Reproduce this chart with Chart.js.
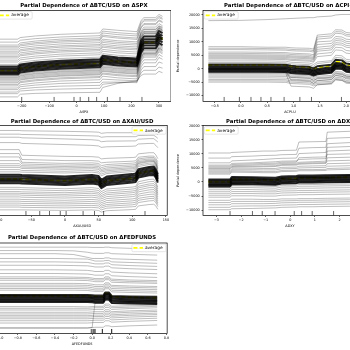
<!DOCTYPE html>
<html><head><meta charset="utf-8">
<script src="https://cdn.jsdelivr.net/npm/chart.js@4.4.1/dist/chart.umd.min.js"></script>
<style>
html,body{margin:0;padding:0;width:350px;height:350px;overflow:hidden;background:#fff;position:relative}
canvas{position:absolute;display:block}
</style></head><body>
<canvas id="c0" width="202" height="116" style="left:-31px;top:0px"></canvas>
<canvas id="c1" width="202" height="116" style="left:175px;top:0px"></canvas>
<canvas id="c2" width="202" height="114" style="left:-31px;top:116px"></canvas>
<canvas id="c3" width="202" height="114" style="left:175px;top:116px"></canvas>
<canvas id="c4" width="202" height="116" style="left:-31px;top:232px"></canvas>
<script>
// ---------------- DATA ----------------
const yTicks = [-10000, -5000, 0, 5000, 10000, 15000, 20000];

// ΔSPX
const spxX = [-300, -215, -205, -150, -60, 85, 95, 150, 220, 235, 245, 288, 300, 313];
const spxTicks = [-200, -100, 0, 100, 200, 300];
const spxAvg = [-700, -700, 100, 800, 1500, 2000, 3300, 2700, 2300, 8300, 9800, 9800, 11800, 11000];
const spxIce = [
 [11000, 11000, 11600, 12200, 12800, 13300, 14800, 14300, 13800, 18000, 19000, 19000, 20200, 19500],
 [9900, 9900, 10600, 11200, 11800, 12300, 14000, 13400, 12900, 17200, 18300, 18300, 19500, 18800],
 [8800, 8800, 9600, 10300, 11000, 11500, 13300, 12700, 12200, 16500, 17800, 17800, 19000, 18400],
 [8200, 8200, 9000, 9700, 10400, 10900, 12500, 11900, 11400, 15500, 16800, 16800, 18200, 17500],
 [7700, 7700, 8500, 9200, 9900, 10400, 12000, 11400, 10900, 15200, 16400, 16400, 17800, 17200],
 [7000, 7000, 7800, 8500, 9200, 9700, 11000, 10400, 10000, 14000, 15500, 15500, 16800, 16000],
 [6300, 6300, 7100, 7800, 8500, 9000, 10400, 9800, 9400, 13200, 14600, 14600, 15800, 15200],
 [5800, 5800, 6600, 7300, 8000, 8500, 9800, 9200, 8800, 13500, 14800, 14800, 16000, 15500],
 [5100, 5100, 5900, 6600, 7300, 7800, 9100, 8500, 8100, 12800, 14000, 14000, 15500, 14800],
 [4500, 4500, 5300, 6000, 6700, 7200, 8500, 7900, 7500, 12300, 13800, 13800, 15200, 14400],
 [4000, 4000, 4800, 5500, 6200, 6700, 8000, 7400, 7000, 12000, 13500, 13500, 14800, 14000],
 [3200, 3200, 4000, 4700, 5400, 5900, 7200, 6600, 6200, 11500, 13000, 13000, 14500, 13800],
 [2500, 2500, 3300, 4000, 4700, 5200, 6500, 5900, 5500, 11000, 12500, 12500, 14300, 13500],
 [1600, 1600, 2400, 3100, 3800, 4300, 5600, 5000, 4600, 11600, 13100, 13100, 15100, 14300],
 [-2800, -2800, -2000, -1300, -600, -100, 1200, 600, 200, 5200, 6700, 6700, 8700, 7900],
 [-3200, -3200, -2400, -1700, -1000, -500, 800, 200, -200, 6000, 7500, 7500, 9500, 8700],
 [-3500, -3500, -2700, -2000, -1300, -800, 500, -100, -500, 5500, 7000, 7000, 9000, 8200],
 [-3900, -3900, -3100, -2400, -1700, -1200, 100, -500, -900, 4400, 5800, 5800, 7800, 7000],
 [-4300, -4300, -3500, -2800, -2100, -1600, -300, -900, -1300, 4700, 6200, 6200, 8200, 7500],
 [-4900, -4900, -3900, -3200, -2500, -2000, -700, -1300, -1700, 4200, 5700, 5700, 7700, 6900],
 [-5300, -5300, -4200, -3500, -2800, -2300, -1000, -1600, -2000, 3800, 5300, 5300, 7300, 6500],
 [-5900, -5900, -4800, -4100, -3400, -2900, -1600, -2200, -2600, 3300, 4800, 4800, 6800, 6000],
 [-6400, -6400, -5200, -4500, -3800, -3300, -2000, -2600, -3000, 2800, 4300, 4300, 6300, 5500],
 [-7200, -7200, -6000, -5300, -4600, -4100, -2800, -3400, -3800, 1800, 3300, 3300, 5300, 4500],
 [-7800, -7800, -6700, -6100, -5500, -5100, -3900, -4200, -4500, 700, 2200, 2200, 4200, 3500],
 [-8700, -8700, -7500, -7000, -6500, -6200, -5000, -5000, -5200, -500, 800, 800, 2500, 2000],
 [-9300, -9300, -8300, -7900, -7600, -7300, -5800, -5200, -4800, -1500, -600, -600, 600, 200],
 [-10500, -10500, -9500, -9200, -9000, -8800, -7000, -5500, -4500, -2500, -2000, -2000, -1000, -1500]
];
const spxBand = [
 [800, 800, 1600, 2300, 3000, 3500, 4800, 4200, 3800, 10500, 12000, 12000, 14000, 13200],
 [200, 200, 1000, 1700, 2400, 2900, 4200, 3600, 3200, 9500, 11000, 11000, 13000, 12200],
 [-400, -400, 400, 1100, 1800, 2300, 3600, 3000, 2600, 8600, 10100, 10100, 12100, 11300],
 [-1000, -1000, -200, 500, 1200, 1700, 3000, 2400, 2000, 8000, 9500, 9500, 11500, 10700],
 [-1600, -1600, -800, -100, 600, 1100, 2400, 1800, 1400, 7100, 8600, 8600, 10600, 9800],
 [-2200, -2200, -1400, -700, 0, 500, 1800, 1200, 800, 6100, 7600, 7600, 9600, 8800]
];
const spxDeciles = [-200, -82, -9.5, 13, 44, 73, 112, 158, 238];

// ΔCPI-U
const cpiX = [-0.62, 0.0, 0.5, 0.85, 0.95, 1.05, 1.3, 1.38, 1.45, 1.72, 1.8, 1.92, 2.0, 2.2, 2.47];
const cpiTicks = [-0.5, 0.0, 0.5, 1.0, 1.5, 2.0, 2.5];
const cpiAvg = [1400, 1400, 1400, 1300, 900, 750, 500, -100, 400, 1000, 2600, 2400, 1400, 900, 900];
const cpiIce = [
 [17900, 18000, 18300, 18600, 18700, 18800, 19000, 19000, 19300, 19600, 20000, 20200, 20200, 20200, 20200],
 [8200, 8200, 8000, 8000, 7800, 7700, 7600, 7300, 12500, 13000, 14500, 14400, 13500, 13000, 13000],
 [7600, 7600, 7500, 7400, 7200, 7100, 7000, 6700, 11800, 12200, 13800, 13700, 12800, 12400, 12400],
 [7100, 7100, 7000, 6900, 6700, 6600, 6500, 6200, 11000, 11500, 13200, 13000, 12200, 11800, 11800],
 [6200, 6200, 6100, 6000, 5800, 5700, 5500, 5200, 10000, 10300, 12000, 11800, 11000, 10600, 10600],
 [5700, 5700, 5600, 5500, 5300, 5200, 5000, 4600, 9000, 9400, 11200, 11000, 10200, 9800, 9800],
 [5200, 5200, 5100, 5000, 4800, 4700, 4500, 4100, 8000, 8500, 10500, 10300, 9500, 9000, 9000],
 [4800, 4800, 4700, 4600, 4400, 4300, 4100, 3700, 7200, 7700, 9700, 9500, 8700, 8200, 8200],
 [4400, 4400, 4300, 4200, 4000, 3900, 3700, 3300, 6500, 7000, 9000, 8800, 8000, 7500, 7500],
 [4000, 4000, 3900, 3800, 3500, 3400, 3200, 2800, 5500, 6000, 8000, 7800, 6800, 6300, 6300],
 [3600, 3600, 3500, 3400, 3100, 3000, 2800, 2400, 4500, 5000, 7000, 6800, 5800, 5300, 5300],
 [2900, 2900, 2900, 2800, 2400, 2300, 2100, 1600, 2500, 3000, 5000, 4800, 3500, 3000, 3000],
 [2300, 2300, 2300, 2200, 1800, 1700, 1500, 900, 1900, 2500, 4200, 4000, 2800, 2400, 2400],
 [-800, -800, -800, -900, -4200, -4300, -4500, -5500, -4500, -4000, -2500, -2800, -3500, -3800, -3800],
 [-1200, -1200, -1200, -1300, -3200, -3300, -3500, -4500, -3600, -3200, -1700, -2000, -2800, -3100, -3100],
 [-1500, -1500, -1500, -1600, -6500, -6600, -6800, -7300, -6000, -5500, -4000, -4300, -5000, -5300, -5300],
 [-1800, -1800, -1800, -1900, -2300, -2400, -2600, -3200, -2800, -2500, -1000, -1200, -2200, -2600, -2600],
 [-2300, -2300, -2300, -2400, -2800, -2900, -3100, -3700, -3300, -3000, -1500, -1700, -2700, -3100, -3100],
 [-2800, -2800, -2800, -2900, -3300, -3400, -3600, -4200, -3800, -3500, -2000, -2200, -3200, -3600, -3600],
 [-3400, -3400, -3400, -3500, -3900, -4000, -4200, -4800, -4400, -4100, -2600, -2800, -3800, -4200, -4200],
 [-4000, -4000, -4000, -4100, -4500, -4600, -4800, -5400, -5000, -4700, -3200, -3400, -4400, -4800, -4800],
 [-4500, -4500, -4500, -4600, -5000, -5100, -5300, -5900, -5500, -5200, -3700, -3900, -4900, -5300, -5300],
 [-5000, -5000, -5000, -5100, -5500, -5600, -5800, -6400, -6000, -5700, -4200, -4400, -5400, -5800, -5800]
];
const cpiBand = [
 [1600, 1600, 1600, 1500, 1100, 950, 700, 100, 900, 1500, 3300, 3100, 1900, 1400, 1400],
 [900, 900, 900, 800, 400, 250, 0, -600, -100, 500, 2100, 1900, 900, 400, 400],
 [400, 400, 400, 300, -100, -250, -500, -1100, -600, 0, 1600, 1400, 400, -100, -100],
 [-100, -100, -100, -200, -600, -750, -1000, -1600, -1100, -500, 1100, 900, -100, -600, -600],
 [-600, -600, -600, -700, -1100, -1250, -1500, -2100, -1600, -1000, 600, 400, -600, -1100, -1100],
 [-1100, -1100, -1100, -1200, -1600, -1750, -2000, -2600, -2100, -1500, 100, -100, -1100, -1600, -1600]
];
const cpiDeciles = [-0.32, -0.03, 0.19, 0.38, 0.57, 0.82, 1.12, 1.34, 1.91];

// ΔXAU/USD
const xauX = [-105, -68, -64, 0, 40, 50, 54, 62, 100, 105, 109, 125, 132, 135, 138];
const xauTicks = [-100, -50, 0, 50, 100, 150];
const xauAvg = [1050, 1050, 950, 460, 950, 600, -700, 460, 1300, 1500, 3050, 3870, 4000, 3000, 1280];
const xauIce = [
 [18300, 18300, 18200, 18000, 17800, 17700, 17300, 17500, 17500, 17500, 17800, 17800, 17800, 17400, 16800],
 [17000, 17000, 16900, 16600, 16400, 16300, 15900, 16100, 16100, 16100, 16500, 16600, 16600, 16100, 15500],
 [15900, 15900, 15700, 15300, 15000, 14800, 14300, 14500, 14600, 14600, 15200, 15400, 15400, 14800, 14200],
 [14000, 14000, 13700, 13300, 13000, 12800, 12300, 12500, 12700, 12800, 13500, 13700, 13700, 13000, 12200],
 [11500, 11500, 9500, 9100, 9000, 8800, 8200, 8400, 8700, 8800, 10000, 10400, 10400, 9600, 8300],
 [10100, 10100, 8000, 7600, 7600, 7400, 6800, 7000, 7400, 7500, 8800, 9200, 9200, 8400, 7200],
 [8900, 8900, 7000, 6600, 6800, 6600, 5800, 6200, 6700, 6800, 8200, 8700, 8700, 7800, 6500],
 [7600, 7600, 6400, 6000, 6200, 6000, 5100, 5600, 6100, 6200, 7700, 8200, 8200, 7300, 5800],
 [6500, 6500, 5800, 5500, 5700, 5500, 4500, 5000, 5600, 5700, 7200, 7800, 7800, 6800, 5200],
 [5800, 5800, 5300, 5000, 5200, 5000, 4000, 4500, 5100, 5300, 6800, 7500, 7500, 6500, 4800],
 [5200, 5200, 4800, 4500, 4700, 4500, 3500, 4000, 4700, 4900, 6500, 7200, 7300, 6200, 4500],
 [4400, 4400, 4100, 3800, 4100, 3800, 2800, 3500, 4200, 4400, 6000, 6700, 6800, 5800, 4000],
 [3600, 3600, 3500, 3200, 3500, 3200, 2200, 3000, 3700, 3900, 5500, 6200, 6300, 5300, 3600],
 [-1900, -1900, -2000, -2400, -2000, -2300, -3400, -2500, -1800, -1600, 100, 900, 1000, 0, -1800],
 [-2600, -2600, -2700, -3100, -2700, -3000, -4100, -3200, -2500, -2300, -700, 100, 200, -700, -2500],
 [-3400, -3400, -3500, -3800, -3400, -3700, -4800, -3900, -3200, -3000, -1500, -700, -600, -1500, -3300],
 [-4000, -4000, -4100, -4400, -4000, -4300, -5400, -4500, -3800, -3600, -2100, -1300, -1300, -2200, -4000],
 [-4600, -4600, -4700, -5000, -4700, -5000, -6000, -5200, -4500, -4300, -2800, -2000, -2000, -2900, -4600],
 [-5300, -5300, -5400, -5700, -5400, -5700, -6700, -5900, -5200, -5000, -3500, -2800, -2700, -3600, -5300],
 [-6100, -6100, -6200, -6500, -6200, -6400, -7400, -6600, -6000, -5800, -4300, -3600, -3500, -4400, -6000],
 [-6800, -6800, -6900, -7200, -6900, -7100, -8000, -7300, -6700, -6500, -5000, -4400, -4300, -5100, -6700],
 [-7500, -7500, -7600, -7800, -7600, -7800, -8600, -8000, -7400, -7200, -5800, -5200, -5100, -5900, -7400],
 [-8200, -8200, -8300, -8500, -8300, -8500, -9200, -8600, -8100, -7900, -6500, -5900, -5800, -6600, -8000],
 [-8900, -8900, -9000, -9200, -9000, -9200, -9900, -9300, -8800, -8700, -7300, -6700, -6600, -7300, -8700],
 [-9900, -9900, -9900, -10100, -9900, -10100, -10700, -10200, -9800, -9700, -8500, -8000, -7900, -8500, -9700]
];
const xauBand = [
 [2550, 2550, 2450, 1960, 2450, 2100, 800, 1960, 2800, 3000, 4550, 5370, 5500, 4500, 2780],
 [1950, 1950, 1850, 1360, 1850, 1500, 200, 1360, 2200, 2400, 3950, 4770, 4900, 3900, 2180],
 [1350, 1350, 1250, 760, 1250, 900, -400, 760, 1600, 1800, 3350, 4170, 4300, 3300, 1580],
 [750, 750, 650, 160, 650, 300, -1000, 160, 1000, 1200, 2750, 3570, 3700, 2700, 980],
 [150, 150, 50, -440, 50, -300, -1600, -440, 400, 600, 2150, 2970, 3100, 2100, 380],
 [-450, -450, -550, -1040, -550, -900, -2200, -1040, -200, 0, 1550, 2370, 2500, 1500, -220]
];
const xauDeciles = [-58, -37.5, -23, -7, 1.7, 26.9, 43.9, 57.4, 118.9];

// ΔDXY
const dxyX = [-3.33, -2.45, -2.38, -1.55, -1.1, -0.6, -0.35, 0.25, 0.35, 0.9, 1.45, 1.5, 2.4, 3.27];
const dxyTicks = [-3, -2, -1, 0, 1, 2, 3];
const dxyAvg = [100, 100, 950, 900, 800, 700, 1150, 1300, 1500, 1500, 1600, 1600, 1700, 1700];
const dxyIce = [
 [10300, 10300, 10500, 10800, 11000, 11000, 11200, 11300, 14200, 14300, 14400, 17700, 18000, 18200],
 [8500, 8500, 9000, 9200, 9400, 9500, 9700, 9800, 12000, 12200, 12300, 15500, 15800, 16000],
 [6800, 6800, 7500, 7800, 8000, 8300, 8400, 8500, 10100, 10300, 10500, 13600, 14000, 14200],
 [6000, 6000, 6600, 6800, 7000, 7200, 7400, 7500, 8000, 8200, 8300, 9800, 10000, 10000],
 [5600, 5600, 6200, 6400, 6600, 6700, 7000, 7100, 8600, 8800, 8900, 12300, 12600, 12800],
 [5200, 5200, 5800, 6000, 6200, 6300, 6600, 6700, 7000, 7200, 7400, 11000, 11300, 11500],
 [4800, 4800, 5500, 5600, 5700, 5800, 6200, 6300, 6600, 6800, 6900, 8600, 8800, 8800],
 [4500, 4500, 5200, 5300, 5400, 5500, 5900, 6000, 6300, 6500, 6600, 7500, 7700, 7700],
 [4000, 4000, 4700, 4700, 4800, 4800, 5200, 5300, 5600, 5700, 5800, 6500, 6700, 6700],
 [3600, 3600, 4300, 4300, 4300, 4300, 4700, 4800, 5000, 5100, 5200, 5600, 5800, 5800],
 [3200, 3200, 3900, 3800, 3700, 3700, 4100, 4200, 4400, 4400, 4500, 4800, 5000, 5000],
 [2800, 2800, 3500, 3400, 3300, 3300, 3700, 3800, 4000, 4000, 4100, 4300, 4500, 4500],
 [-1400, -1400, -700, -800, -900, -1000, -600, -500, -300, -300, -200, -200, -100, -100],
 [-2000, -2000, -1300, -1400, -1500, -1600, -1200, -1100, -900, -900, -800, -800, -700, -700],
 [-2600, -2600, -1900, -2000, -2100, -2200, -1800, -1700, -1500, -1500, -1400, -1400, -1300, -1300],
 [-3300, -3300, -2600, -2700, -2800, -2900, -2500, -2400, -2200, -2200, -2100, -2100, -2000, -2000],
 [-4000, -4000, -3400, -3400, -3500, -3500, -3200, -3100, -3000, -3000, -2900, -2900, -2800, -2800],
 [-4700, -4700, -4100, -4100, -4200, -4200, -3900, -3800, -3700, -3700, -3600, -3600, -3500, -3500],
 [-5400, -5400, -4900, -4900, -5000, -5000, -4700, -4600, -4500, -4500, -4400, -4400, -4300, -4300],
 [-6500, -6500, -6100, -6100, -6200, -6200, -6000, -6000, -5900, -5900, -5800, -5800, -5700, -5700],
 [-7300, -7300, -6900, -6900, -6900, -6900, -6700, -6600, -6500, -6500, -6400, -6400, -6300, -6300],
 [-8100, -8100, -7700, -7700, -7700, -7600, -7400, -7300, -7200, -7200, -7100, -7100, -7000, -7000],
 [-9000, -9000, -8600, -8500, -8500, -8400, -8200, -8100, -8000, -8000, -7900, -7900, -7800, -7800],
 [-9850, -9850, -9500, -9400, -9300, -9200, -9000, -8900, -8800, -8800, -8700, -8700, -8600, -8600]
];
const dxyBand = [
 [900, 900, 1750, 1700, 1600, 1500, 1950, 2100, 2300, 2300, 2400, 2400, 2500, 2500],
 [400, 400, 1250, 1200, 1100, 1000, 1450, 1600, 1800, 1800, 1900, 1900, 2000, 2000],
 [-100, -100, 750, 700, 600, 500, 950, 1100, 1300, 1300, 1400, 1400, 1500, 1500],
 [-600, -600, 250, 200, 100, 0, 450, 600, 800, 800, 900, 900, 1000, 1000],
 [-1100, -1100, -250, -300, -400, -500, -50, 100, 300, 300, 400, 400, 500, 500],
 [-1600, -1600, -750, -800, -900, -1000, -550, -400, -200, -200, -100, -100, 0, 0]
];
const dxyDeciles = [-2.45, -1.54, -1.14, -0.62, 0.16, 0.46, 0.89, 1.76, 2.6];

// ΔFEDFUNDS
const fedX = [-1.05, -0.4, -0.2, -0.05, 0.0, 0.03, 0.12, 0.14, 0.18, 0.21, 0.4, 0.7];
const fedTicks = [-1.0, -0.8, -0.6, -0.4, -0.2, 0.0, 0.2, 0.4, 0.6, 0.8];
const fedAvg = [1440, 1440, 1400, 1400, 1300, 1200, 1200, 2280, 2280, 1090, 900, 740];
const fedIce = [
 [18600, 18600, 18600, 18600, 18500, 18500, 18500, 18600, 18600, 18400, 18200, 18000],
 [17400, 17400, 17300, 16800, 16500, 16400, 16400, 16600, 16600, 16300, 16100, 15800],
 [16300, 16300, 16000, 15000, 14600, 14600, 14600, 14800, 14800, 14500, 14300, 14000],
 [14600, 14600, 14500, 14400, 14000, 13700, 13700, 13900, 13900, 13400, 13200, 12900],
 [13400, 13400, 13300, 13200, 12900, 12700, 12700, 13000, 13000, 12400, 12100, 11800],
 [12200, 12200, 12100, 12000, 11800, 11600, 11600, 11900, 11900, 11300, 11000, 10700],
 [10600, 10600, 10500, 10400, 10200, 10000, 10000, 10400, 10400, 9800, 9500, 9200],
 [9300, 9300, 9200, 9100, 8900, 8700, 8700, 9200, 9200, 8500, 8200, 7900],
 [8100, 8100, 8000, 7900, 7700, 7500, 7500, 8100, 8100, 7300, 7000, 6800],
 [7500, 7500, 7500, 7400, 7200, 7000, 7000, 7600, 7600, 6800, 6500, 6300],
 [6900, 6900, 6900, 6800, 6600, 6400, 6400, 7100, 7100, 6200, 6000, 5800],
 [5800, 5800, 5800, 5700, 5500, 5300, 5300, 6000, 6000, 5100, 4900, 4700],
 [5200, 5200, 5200, 5100, 4900, 4700, 4700, 5500, 5500, 4600, 4400, 4200],
 [4600, 4600, 4600, 4500, 4300, 4100, 4100, 4900, 4900, 4000, 3800, 3600],
 [4000, 4000, 4000, 3900, 3700, 3500, 3500, 4400, 4400, 3400, 3200, 3000],
 [3400, 3400, 3400, 3300, 3100, 3000, 3000, 3900, 3900, 2800, 2600, 2400],
 [-2400, -2400, -2400, -2500, -2400, -2300, -2300, -1500, -1500, -2300, -2100, -1900],
 [-3000, -3000, -3000, -3000, -2900, -2800, -2800, -2100, -2100, -2800, -2600, -2300],
 [-3600, -3600, -3600, -3600, -3500, -3400, -3400, -2700, -2700, -3400, -3100, -2800],
 [-4400, -4400, -4400, -4400, -4300, -4200, -4200, -3500, -3500, -4200, -3900, -3600],
 [-5000, -5000, -5000, -5000, -4900, -4800, -4800, -4100, -4100, -4700, -4400, -4100],
 [-5600, -5600, -5600, -5600, -5500, -5400, -5400, -4700, -4700, -5300, -5000, -4700],
 [-6100, -6100, -6100, -6100, -6000, -5900, -5900, -5300, -5300, -5800, -5500, -5200],
 [-6700, -6700, -6700, -6700, -6600, -6500, -6500, -5900, -5900, -6400, -6100, -5800],
 [-7400, -7400, -7400, -7400, -7300, -7200, -7200, -6600, -6600, -7100, -6800, -6500],
 [-8200, -8200, -8200, -8200, -8100, -8000, -8000, -7400, -7400, -7900, -7600, -7300],
 [-10000, -10000, -10000, -10000, -9800, -1200, -1200, -300, -300, -1300, -1200, -1100],
 [-9900, -9900, -9900, -9900, -9800, -9700, -9700, -9200, -9200, -9500, -9200, -8900]
];
const fedBand = [
 [1740, 1740, 1700, 1700, 1600, 1500, 1500, 2580, 2580, 1390, 1200, 1040],
 [1240, 1240, 1200, 1200, 1100, 1000, 1000, 2080, 2080, 890, 700, 540],
 [740, 740, 700, 700, 600, 500, 500, 1580, 1580, 390, 200, 40],
 [240, 240, 200, 200, 100, 0, 0, 1080, 1080, -110, -300, -460],
 [-260, -260, -300, -300, -400, -500, -500, 580, 580, -610, -800, -960],
 [-760, -760, -800, -800, -900, -1000, -1000, 80, 80, -1110, -1300, -1460]
];
const fedDeciles = [-0.01, 0.0, 0.015, 0.03, 0.03, 0.11, 0.11, 0.21, 0.21];

// ---------------- RENDER ----------------
const F = 'DejaVu Sans';
const fmt = (v, d) => (Math.abs(v) < 1e-9 ? 0 : v).toFixed(d).replace('-', '\u2212');
const pts = (xs, ys) => xs.map((x, i) => ({x: x, y: ys[i]}));
function rug(dec, ymin, ymax) {
  const h = (ymax - ymin) * 0.05, out = [];
  dec.forEach(d => { out.push({x: d, y: ymin}, {x: d, y: ymin + h}, {x: d, y: null}); });
  return out;
}
const setTicks = arr => s => { s.ticks = arr.filter(v => v >= s.min - 1e-9 && v <= s.max + 1e-9).map(v => ({value: v})); };

const framePlugin = {
  id: 'frame',
  afterDatasetsDraw(chart) {
    const {ctx, chartArea: a} = chart;
    ctx.save();
    ctx.strokeStyle = '#000'; ctx.lineWidth = 0.7;
    ctx.strokeRect(a.left, a.top, a.right - a.left, a.bottom - a.top);
    ctx.restore();
  }
};
const legendPlugin = {
  id: 'avgLegend',
  afterDraw(chart, args, opts) {
    const ds = chart.data.datasets.find(d => d.label === 'average');
    if (!ds || !opts.side) return;
    const {ctx, chartArea: a} = chart;
    const w = 34, h = 7.5;
    const L = opts.side === 'left' ? a.left + 1.2 : a.right - 1.2 - w;
    const T = a.top + 1.2;
    ctx.save();
    ctx.fillStyle = 'rgba(255,255,255,0.8)';
    ctx.strokeStyle = '#cccccc'; ctx.lineWidth = 0.5;
    ctx.beginPath();
    if (ctx.roundRect) ctx.roundRect(L, T, w, h, 1.2); else ctx.rect(L, T, w, h);
    ctx.fill(); ctx.stroke();
    ctx.strokeStyle = ds.borderColor; ctx.lineWidth = 1.8; ctx.setLineDash([4, 2.2]);
    ctx.beginPath(); ctx.moveTo(L + 1.5, T + h / 2); ctx.lineTo(L + 11, T + h / 2); ctx.stroke();
    ctx.setLineDash([]);
    ctx.fillStyle = '#000'; ctx.font = '4.3px "DejaVu Sans"'; ctx.textBaseline = 'middle'; ctx.textAlign = 'left';
    ctx.fillText(ds.label, L + 13, T + h / 2);
    ctx.restore();
  }
};

const panels = [
  {id: 'c0', feat: 'ΔSPX', xs: spxX, avg: spxAvg, ice: spxIce, band: spxBand, dec: spxDeciles, xt: spxTicks,
   xmin: -290, xmax: 343.8, dp: 0, ymin: -12216, ymax: 21713, side: 'left', tp: [2.5, 2.5]},
  {id: 'c1', feat: 'ΔCPI-U', xs: cpiX, avg: cpiAvg, ice: cpiIce, band: cpiBand, dec: cpiDeciles, xt: cpiTicks,
   xmin: -0.722, xmax: 2.586, dp: 1, ymin: -12216, ymax: 21713, side: 'left', tp: [2.5, 2.5]},
  {id: 'c2', feat: 'ΔXAU/USD', xs: xauX, avg: xauAvg, ice: xauIce, band: xauBand, dec: xauDeciles, xt: xauTicks,
   xmin: -101, xmax: 151.9, dp: 0, ymin: -11900, ymax: 20070, side: 'right', tp: [2.6, 1.5]},
  {id: 'c3', feat: 'ΔDXY', xs: dxyX, avg: dxyAvg, ice: dxyIce, band: dxyBand, dec: dxyDeciles, xt: dxyTicks,
   xmin: -3.549, xmax: 3.524, dp: 0, ymin: -11900, ymax: 20070, side: 'left', tp: [2.6, 1.5]},
  {id: 'c4', feat: 'ΔFEDFUNDS', xs: fedX, avg: fedAvg, ice: fedIce, band: fedBand, dec: fedDeciles, xt: fedTicks,
   xmin: -1.024, xmax: 0.807, dp: 1, ymin: -11900, ymax: 20070, side: 'right', tp: [3, 2.6]}
];

panels.forEach(p => {
  const datasets = [];
  p.ice.forEach(line => datasets.push({data: pts(p.xs, line), borderColor: 'rgba(0,0,0,0.33)', borderWidth: 0.8}));
  p.band.forEach(line => datasets.push({data: pts(p.xs, line), borderColor: 'rgba(0,0,0,0.85)', borderWidth: 2}));
  datasets.push({label: 'average', data: pts(p.xs, p.avg), borderColor: '#ffff00', borderWidth: 1.9, borderDash: [4, 2.2]});
  datasets.push({data: rug(p.dec, p.ymin, p.ymax), borderColor: '#000', borderWidth: 0.6, spanGaps: false});

  const tickFont = {family: F, size: 3.4, lineHeight: 1};
  const gridOpt = {display: true, drawOnChartArea: false, drawTicks: true, tickLength: 1.5, color: '#000', lineWidth: 0.6};
  new Chart(document.getElementById(p.id), {
    type: 'line',
    data: {datasets: datasets},
    plugins: [framePlugin, legendPlugin],
    options: {
      responsive: false, animation: false, devicePixelRatio: 1, events: [],
      layout: {padding: 0},
      elements: {point: {radius: 0}, line: {tension: 0, borderJoinStyle: 'round', fill: false}},
      plugins: {
        legend: {display: false}, tooltip: {enabled: false},
        title: {display: true, text: 'Partial Dependence of ΔBTC/USD on ' + p.feat, fullSize: false,
                font: {family: F, size: 5.4, weight: 'bold', lineHeight: 1}, color: '#000',
                padding: {top: p.tp[0], bottom: p.tp[1]}},
        avgLegend: {side: p.side}
      },
      scales: {
        x: {type: 'linear', min: p.xmin, max: p.xmax,
            afterFit: s => { s.height = 14.5; },
            afterBuildTicks: setTicks(p.xt),
            ticks: {autoSkip: false, maxRotation: 0, font: tickFont, color: '#000', padding: 1.8,
                    callback: v => fmt(v, p.dp)},
            grid: gridOpt, border: {display: false},
            title: {display: true, text: p.feat, font: tickFont, color: '#000', padding: {top: 0, bottom: 1.8}}},
        y: {type: 'linear', min: p.ymin, max: p.ymax, position: 'left',
            afterFit: s => { s.width = 28; },
            afterBuildTicks: setTicks(yTicks),
            ticks: {autoSkip: false, font: tickFont, color: '#000', padding: 1.8,
                    callback: v => fmt(v, 0)},
            grid: gridOpt, border: {display: false},
            title: {display: true, text: 'Partial dependence', font: tickFont, color: '#000', padding: {top: 1, bottom: 0}}}
      }
    }
  });
});
</script>
</body></html>
